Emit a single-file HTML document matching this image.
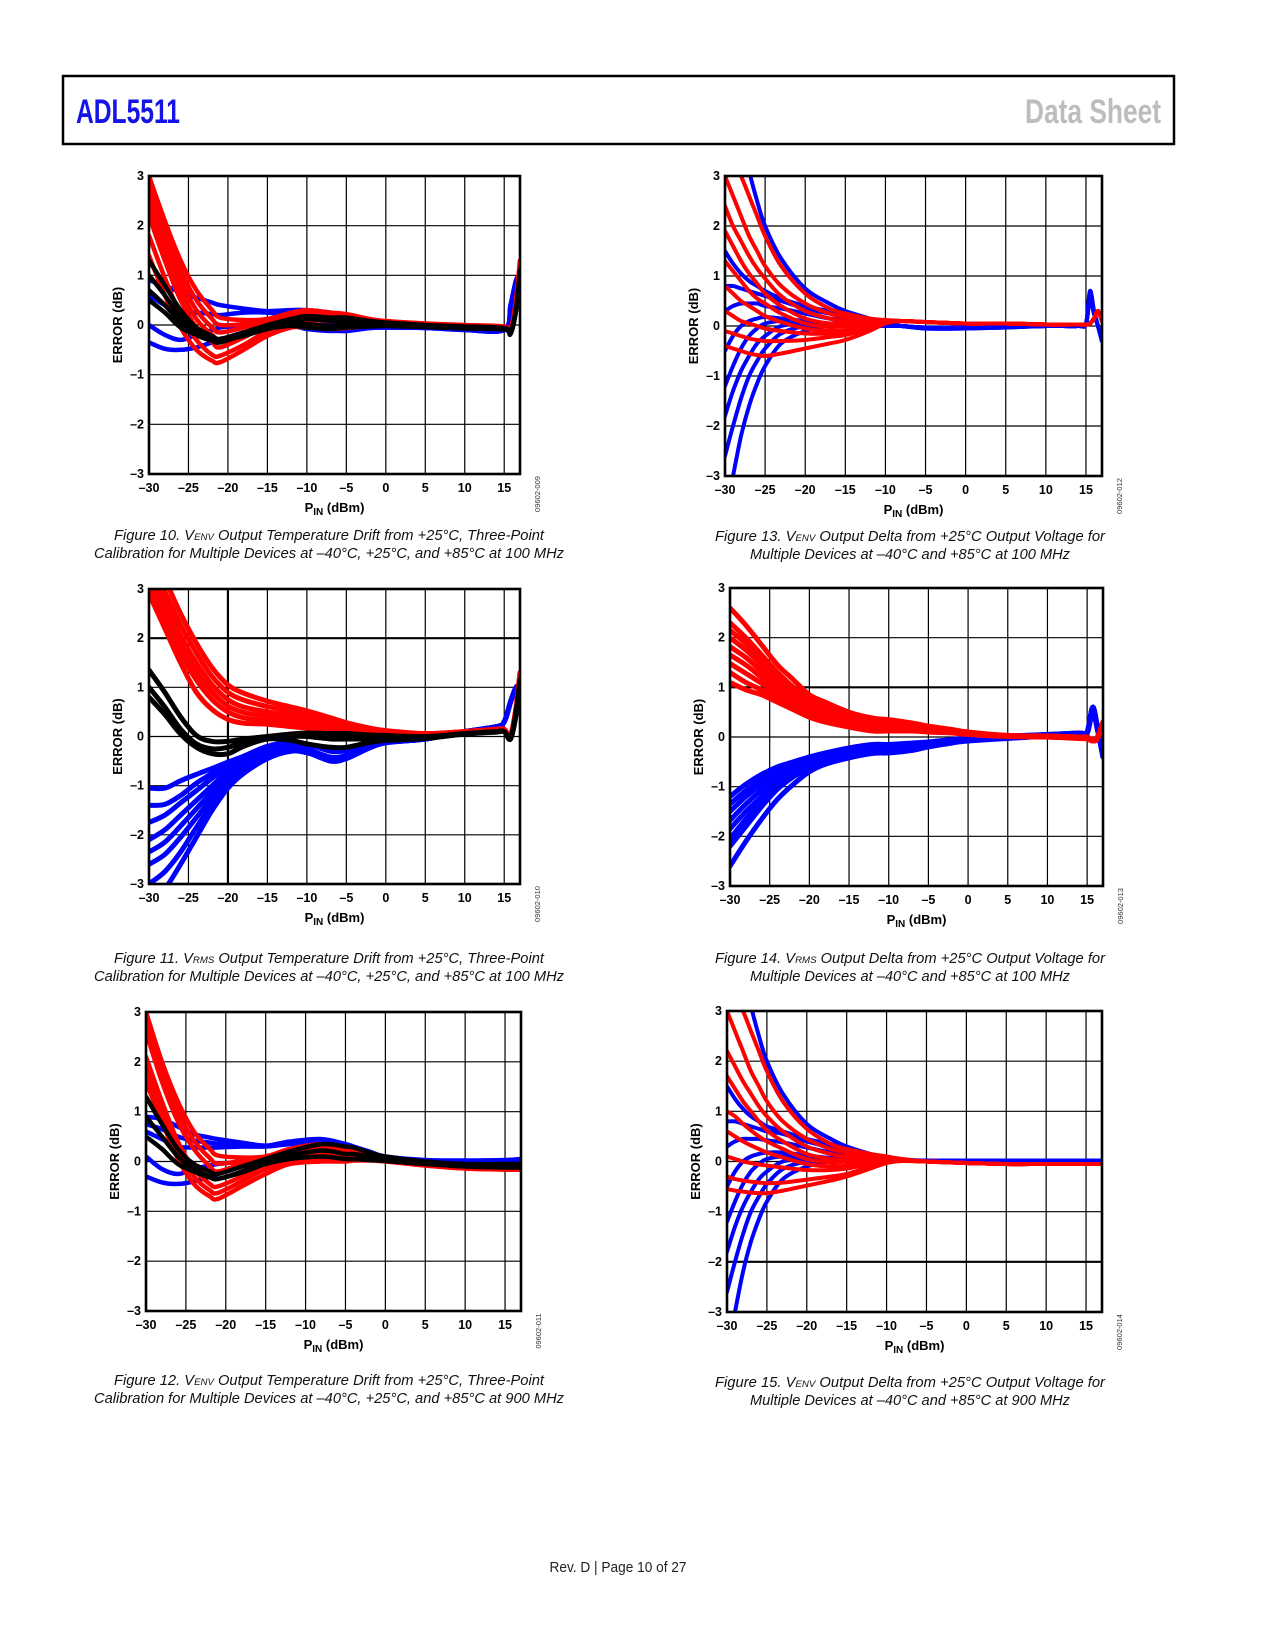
<!DOCTYPE html>
<html><head><meta charset="utf-8"><title>ADL5511 Data Sheet page 10</title>
<style>
html,body{margin:0;padding:0;background:#fff;}
svg{display:block;}
.tick{font-family:"Liberation Sans",Arial,sans-serif;font-weight:bold;font-size:12.5px;fill:#000;}
.axt{font-family:"Liberation Sans",Arial,sans-serif;font-weight:bold;font-size:13px;fill:#000;}
.cap{font-family:"Liberation Sans",Arial,sans-serif;font-style:italic;font-size:14.5px;fill:#111;}
.cat{font-family:"Liberation Sans",Arial,sans-serif;font-size:7.5px;fill:#333;}
</style></head>
<body>
<svg id="page" width="1275" height="1650" viewBox="0 0 1275 1650" xmlns="http://www.w3.org/2000/svg">
  <rect x="0" y="0" width="1275" height="1650" fill="#fff"/>
  <g>
    <rect x="63" y="76" width="1111" height="68" fill="none" stroke="#000" stroke-width="2.5"/>
    <text x="76" y="123" font-family="'Liberation Sans Narrow','Liberation Sans',sans-serif" font-weight="bold" font-size="34" fill="#1414e6" textLength="104" lengthAdjust="spacingAndGlyphs">ADL5511</text>
    <text x="1161" y="123" text-anchor="end" font-family="'Liberation Sans Narrow','Liberation Sans',sans-serif" font-weight="bold" font-size="34" fill="#bdbdbd" textLength="136" lengthAdjust="spacingAndGlyphs">Data Sheet</text>
  </g>
  <g id="charts"></g>
  <text x="618" y="1572" text-anchor="middle" font-family="'Liberation Sans',sans-serif" font-size="14.5" fill="#222" textLength="137" lengthAdjust="spacingAndGlyphs">Rev. D | Page 10 of 27</text>
</svg>
<script>
// ===== Figure 10 data =====
const f10_x = [-30,-28,-26,-24,-22,-21,-18,-15,-12,-10,-7,-5,-2,0,5,10,15,15.8,16.5,17];
const f10_blue = [
 [0.9,0.8,0.65,0.55,0.45,0.4,0.33,0.28,0.3,0.3,0.25,0.2,0.1,0.05,0,-0.05,-0.08,0.4,0.9,1.0],
 [0.6,0.4,0.25,0.25,0.22,0.2,0.25,0.25,0.2,0.15,0.05,0,-0.03,-0.05,-0.05,-0.08,-0.1,0.4,0.9,1.0],
 [0,-0.2,-0.3,-0.2,-0.1,-0.05,0,0.05,0.05,0,-0.1,-0.12,-0.06,-0.05,-0.06,-0.1,-0.1,0.35,0.9,1.0],
 [-0.35,-0.48,-0.5,-0.45,-0.35,-0.3,-0.15,-0.05,-0.02,-0.08,-0.12,-0.1,-0.06,-0.05,-0.06,-0.1,-0.1,0.35,0.9,1.0]
];
const f10_red = [
 [3.0,2.1,1.3,0.7,0.3,0.15,0.1,0.12,0.25,0.3,0.25,0.22,0.12,0.08,0.03,0,-0.03,-0.1,0.5,1.3],
 [2.8,1.9,1.1,0.5,0.12,0,0.02,0.11,0.23,0.29,0.23,0.2,0.11,0.07,0.03,-0.01,-0.04,-0.1,0.5,1.28],
 [2.6,1.7,0.9,0.3,-0.05,-0.15,-0.05,0.1,0.22,0.28,0.22,0.18,0.1,0.06,0.02,-0.02,-0.05,-0.1,0.5,1.25],
 [2.4,1.5,0.7,0.12,-0.2,-0.3,-0.15,0.05,0.18,0.25,0.2,0.16,0.09,0.05,0.02,-0.02,-0.05,-0.11,0.48,1.22],
 [2.2,1.3,0.5,-0.05,-0.35,-0.45,-0.25,0,0.15,0.22,0.18,0.15,0.08,0.05,0.02,-0.02,-0.05,-0.12,0.45,1.2],
 [1.8,0.95,0.2,-0.3,-0.6,-0.62,-0.4,-0.12,0.05,0.1,0.08,0.08,0.04,0.02,0,-0.03,-0.05,-0.12,0.45,1.2],
 [1.4,0.6,-0.05,-0.5,-0.72,-0.75,-0.5,-0.22,-0.05,-0.05,-0.08,-0.06,-0.02,0,0,-0.05,-0.05,-0.14,0.4,1.15]
];
const f10_black = [
 [1.3,0.8,0.3,-0.05,-0.22,-0.28,-0.15,0,0.12,0.18,0.15,0.15,0.08,0.05,0,-0.03,-0.06,-0.14,0.35,1.1],
 [1.0,0.6,0.15,-0.15,-0.3,-0.32,-0.18,-0.02,0.08,0.12,0.08,0.08,0.04,0.02,-0.02,-0.05,-0.07,-0.16,0.3,1.05],
 [0.7,0.4,0.05,-0.2,-0.32,-0.35,-0.2,-0.05,0.02,0.02,-0.02,0,0,0,-0.03,-0.06,-0.08,-0.18,0.3,1.0],
 [0.5,0.25,-0.05,-0.2,-0.28,-0.3,-0.22,-0.08,-0.02,-0.05,-0.08,-0.05,-0.03,-0.02,-0.04,-0.07,-0.09,-0.18,0.3,1.0]
];
// ===== Figure 11 data =====
const f11_x = [-30,-28,-26,-24,-22,-20,-18,-15,-12,-10,-7,-5,-2,0,5,10,14,15,15.8,16.5,17];
const f11_blue = [
 [-1.05,-1.05,-0.9,-0.77,-0.65,-0.52,-0.4,-0.2,-0.12,-0.15,-0.3,-0.28,-0.15,-0.1,-0.05,0.1,0.2,0.3,0.7,1.0,1.0],
 [-1.4,-1.38,-1.2,-0.95,-0.75,-0.55,-0.42,-0.25,-0.18,-0.25,-0.42,-0.38,-0.2,-0.12,-0.05,0.1,0.2,0.3,0.7,1.0,1.0],
 [-1.75,-1.6,-1.35,-1.1,-0.85,-0.62,-0.48,-0.3,-0.22,-0.3,-0.47,-0.42,-0.22,-0.12,-0.05,0.1,0.2,0.3,0.7,1.0,1.0],
 [-2.1,-1.9,-1.6,-1.3,-1.0,-0.72,-0.55,-0.35,-0.25,-0.32,-0.5,-0.45,-0.23,-0.13,-0.05,0.1,0.2,0.3,0.7,1.0,1.0],
 [-2.35,-2.15,-1.82,-1.47,-1.12,-0.8,-0.6,-0.38,-0.27,-0.32,-0.49,-0.44,-0.22,-0.12,-0.05,0.1,0.2,0.3,0.7,1.0,1.0],
 [-2.6,-2.4,-2.05,-1.65,-1.25,-0.9,-0.65,-0.4,-0.28,-0.32,-0.48,-0.44,-0.22,-0.12,-0.05,0.1,0.2,0.3,0.7,1.0,1.0],
 [-3.0,-2.75,-2.35,-1.85,-1.38,-0.98,-0.7,-0.43,-0.29,-0.33,-0.46,-0.43,-0.21,-0.12,-0.05,0.1,0.2,0.3,0.7,1.0,1.0],
 [-3.4,-3.1,-2.6,-2.05,-1.5,-1.05,-0.75,-0.45,-0.3,-0.33,-0.45,-0.42,-0.2,-0.12,-0.05,0.1,0.2,0.3,0.7,1.0,1.0]
];
const f11_red = [
 [3.8,3.2,2.5,1.9,1.4,1.05,0.88,0.72,0.6,0.52,0.38,0.28,0.17,0.12,0.06,0.1,0.15,0.15,0.02,0.6,1.3],
 [3.6,2.95,2.27,1.7,1.22,0.9,0.74,0.61,0.51,0.44,0.31,0.23,0.14,0.1,0.05,0.1,0.14,0.14,0.02,0.58,1.28],
 [3.4,2.75,2.05,1.5,1.05,0.75,0.6,0.5,0.42,0.36,0.25,0.18,0.12,0.09,0.05,0.1,0.14,0.14,0.02,0.55,1.25],
 [3.25,2.57,1.87,1.32,0.9,0.62,0.49,0.41,0.35,0.3,0.2,0.15,0.1,0.08,0.05,0.09,0.13,0.13,0.01,0.52,1.22],
 [3.1,2.4,1.7,1.15,0.75,0.5,0.38,0.32,0.28,0.24,0.16,0.12,0.08,0.07,0.05,0.09,0.13,0.13,0,0.5,1.2],
 [2.9,2.2,1.5,0.9,0.55,0.35,0.27,0.25,0.2,0.17,0.12,0.1,0.07,0.06,0.05,0.09,0.12,0.12,0,0.5,1.2]
];
const f11_black = [
 [1.35,0.9,0.4,0.02,-0.1,-0.1,-0.05,0,0.05,0.07,0.06,0.06,0.03,0.02,0,0.06,0.1,0.1,-0.03,0.5,1.15],
 [1.0,0.6,0.15,-0.15,-0.25,-0.22,-0.12,-0.02,0,0,-0.05,-0.05,-0.05,-0.03,-0.02,0.05,0.1,0.1,-0.05,0.45,1.1],
 [0.8,0.45,0.05,-0.22,-0.35,-0.35,-0.2,-0.05,-0.08,-0.15,-0.22,-0.22,-0.12,-0.08,-0.04,0.05,0.09,0.1,-0.05,0.45,1.1]
];
// ===== Figure 12 data =====
const f12_x = [-30,-28,-26,-24,-22,-21,-18,-15,-12,-8,-5,-4,-2,0,5,10,15,17];
const f12_blue = [
 [0.9,0.85,0.7,0.55,0.48,0.45,0.38,0.32,0.4,0.45,0.35,0.3,0.2,0.1,0.03,0.02,0.03,0.05],
 [0.75,0.65,0.5,0.42,0.38,0.36,0.34,0.31,0.38,0.42,0.32,0.29,0.18,0.09,0.02,0.01,0.02,0.05],
 [0.6,0.45,0.3,0.28,0.28,0.28,0.3,0.3,0.35,0.4,0.3,0.28,0.15,0.08,0.02,0,0.02,0.05],
 [0.1,-0.15,-0.25,-0.15,-0.08,-0.05,0,0.05,0.15,0.25,0.2,0.2,0.12,0.05,0,-0.02,0,0.02],
 [-0.3,-0.42,-0.45,-0.4,-0.3,-0.25,-0.1,0,0.1,0.2,0.15,0.15,0.1,0.05,0,-0.02,0,0.02]
];
const f12_red = [
 [3.0,2.0,1.2,0.6,0.25,0.12,0.08,0.1,0.25,0.35,0.25,0.25,0.15,0.08,-0.05,-0.12,-0.15,-0.15],
 [2.8,1.8,1.0,0.42,0.07,-0.04,0.01,0.1,0.22,0.32,0.22,0.22,0.13,0.06,-0.05,-0.12,-0.15,-0.15],
 [2.6,1.6,0.8,0.25,-0.1,-0.2,-0.05,0.1,0.2,0.3,0.2,0.2,0.12,0.05,-0.05,-0.12,-0.15,-0.15],
 [2.1,1.2,0.4,-0.15,-0.45,-0.5,-0.3,-0.05,0.1,0.15,0.1,0.1,0.06,0.02,-0.07,-0.13,-0.16,-0.16],
 [1.85,1.0,0.22,-0.3,-0.58,-0.63,-0.4,-0.15,0.03,0.08,0.05,0.06,0.04,0.01,-0.08,-0.14,-0.16,-0.16],
 [1.6,0.8,0.05,-0.45,-0.7,-0.75,-0.5,-0.25,-0.05,0,0,0.02,0.02,0,-0.08,-0.14,-0.16,-0.16]
];
const f12_black = [
 [1.3,0.75,0.25,-0.05,-0.2,-0.25,-0.1,0.05,0.2,0.35,0.3,0.28,0.18,0.1,0,-0.05,-0.05,-0.05],
 [0.9,0.5,0.1,-0.15,-0.3,-0.35,-0.2,0,0.12,0.22,0.15,0.15,0.1,0.05,-0.03,-0.08,-0.08,-0.08],
 [0.5,0.25,-0.05,-0.2,-0.32,-0.35,-0.22,-0.05,0.05,0.1,0.05,0.05,0.03,0.01,-0.05,-0.1,-0.12,-0.12]
];
// ===== Figure 13 data =====
const f13_x = [-30,-29,-28,-27,-26,-25,-23,-20,-17,-15,-12,-10,-8,-5,0,5,10,14,15,15.5,16,16.5,17];
const f13_blue = [
 [5,4.4,3.8,3.1,2.5,2.0,1.35,0.75,0.45,0.3,0.15,0.05,0,-0.05,-0.05,-0.03,0,0,0.05,0.7,0.3,0,-0.3],
 [1.5,1.25,1.05,0.9,0.8,0.7,0.55,0.4,0.3,0.25,0.12,0.05,0,-0.05,-0.05,-0.03,0,0,0.05,0.7,0.3,0,-0.3],
 [0.8,0.8,0.75,0.7,0.65,0.6,0.5,0.35,0.25,0.2,0.1,0.05,0,-0.04,-0.04,-0.02,0,0,0.05,0.65,0.3,0,-0.3],
 [0.3,0.4,0.45,0.45,0.45,0.4,0.35,0.25,0.15,0.12,0.05,0.02,0,-0.03,-0.03,-0.02,0,0,0.05,0.6,0.25,0,-0.3],
 [-0.5,-0.2,0,0.1,0.15,0.18,0.15,0.1,0.05,0.05,0.02,0,0,-0.03,-0.03,-0.02,0,0,0.05,0.6,0.25,0,-0.3],
 [-1.2,-0.8,-0.45,-0.2,-0.05,0.05,0.1,0.08,0.05,0.03,0.02,0,0,-0.03,-0.03,-0.02,0,0,0.05,0.6,0.25,0,-0.3],
 [-1.8,-1.3,-0.9,-0.6,-0.35,-0.2,0,0.05,0.03,0.02,0.01,0,0,-0.03,-0.03,-0.02,0,0,0.05,0.6,0.25,0,-0.3],
 [-2.6,-2.0,-1.45,-1.0,-0.7,-0.45,-0.15,0,0.02,0.02,0,0,0,-0.03,-0.03,-0.02,0,0,0.05,0.6,0.25,0,-0.3],
 [-3.8,-3.0,-2.2,-1.6,-1.15,-0.8,-0.35,-0.1,0,0,0,0,0,-0.03,-0.03,-0.02,0,0,0.05,0.6,0.25,0,-0.3]
];
const f13_red = [
 [3.6,3.3,3.0,2.6,2.2,1.8,1.2,0.65,0.35,0.25,0.15,0.12,0.1,0.08,0.05,0.05,0.03,0.03,0.03,0.05,0.15,0.3,0.1],
 [3.0,2.6,2.2,1.8,1.5,1.2,0.8,0.45,0.25,0.18,0.12,0.1,0.1,0.08,0.05,0.05,0.03,0.03,0.03,0.05,0.15,0.3,0.1],
 [2.4,2.0,1.7,1.4,1.15,0.95,0.6,0.3,0.15,0.1,0.1,0.1,0.1,0.08,0.05,0.05,0.03,0.03,0.03,0.05,0.15,0.3,0.1],
 [1.9,1.6,1.3,1.05,0.85,0.65,0.4,0.15,0.05,0.05,0.08,0.1,0.1,0.08,0.05,0.05,0.03,0.03,0.03,0.05,0.15,0.3,0.1],
 [1.3,1.1,0.9,0.7,0.55,0.45,0.25,0.05,-0.02,0,0.05,0.1,0.1,0.08,0.05,0.05,0.03,0.03,0.03,0.05,0.15,0.3,0.1],
 [0.8,0.65,0.5,0.4,0.3,0.2,0.08,-0.05,-0.1,-0.08,0,0.08,0.1,0.08,0.05,0.05,0.03,0.03,0.03,0.05,0.15,0.3,0.1],
 [0.3,0.2,0.1,0.05,0,-0.05,-0.1,-0.15,-0.15,-0.12,-0.02,0.07,0.1,0.08,0.05,0.05,0.03,0.03,0.03,0.05,0.15,0.3,0.1],
 [-0.1,-0.15,-0.2,-0.25,-0.28,-0.3,-0.3,-0.28,-0.22,-0.18,-0.05,0.06,0.1,0.08,0.05,0.05,0.03,0.03,0.03,0.05,0.15,0.3,0.1],
 [-0.4,-0.45,-0.5,-0.55,-0.58,-0.6,-0.55,-0.45,-0.35,-0.28,-0.1,0.05,0.1,0.08,0.05,0.05,0.03,0.03,0.03,0.05,0.15,0.3,0.1]
];
const f13_black = [];
// ===== Figure 14 data =====
const f14_x = [-30,-28,-26,-24,-22,-20,-18,-15,-12,-10,-7,-5,-2,0,5,10,14,15,15.7,16.3,17];
const f14_blue = [
 [-1.2,-0.95,-0.75,-0.6,-0.5,-0.4,-0.32,-0.22,-0.15,-0.15,-0.12,-0.1,-0.05,-0.02,0.02,0.05,0.08,0.1,0.6,0.2,-0.4],
 [-1.35,-1.08,-0.85,-0.68,-0.55,-0.44,-0.35,-0.25,-0.18,-0.18,-0.15,-0.11,-0.06,-0.03,0.01,0.05,0.08,0.1,0.6,0.2,-0.4],
 [-1.5,-1.2,-0.95,-0.75,-0.6,-0.48,-0.38,-0.27,-0.2,-0.2,-0.17,-0.12,-0.07,-0.04,0,0.04,0.07,0.1,0.6,0.2,-0.4],
 [-1.68,-1.35,-1.07,-0.83,-0.65,-0.52,-0.42,-0.3,-0.23,-0.22,-0.19,-0.14,-0.08,-0.05,0,0.04,0.07,0.1,0.58,0.2,-0.4],
 [-1.85,-1.5,-1.2,-0.9,-0.7,-0.55,-0.45,-0.33,-0.25,-0.24,-0.2,-0.15,-0.09,-0.05,-0.01,0.03,0.06,0.1,0.55,0.2,-0.4],
 [-2.05,-1.65,-1.3,-0.98,-0.75,-0.58,-0.48,-0.36,-0.28,-0.26,-0.22,-0.17,-0.1,-0.06,-0.02,0.02,0.05,0.09,0.52,0.18,-0.4],
 [-2.2,-1.8,-1.4,-1.05,-0.8,-0.62,-0.5,-0.38,-0.3,-0.28,-0.24,-0.18,-0.1,-0.07,-0.02,0.02,0.05,0.08,0.5,0.15,-0.4],
 [-2.6,-2.1,-1.65,-1.25,-0.95,-0.7,-0.55,-0.42,-0.33,-0.32,-0.27,-0.2,-0.12,-0.08,-0.03,0.02,0.04,0.07,0.5,0.15,-0.4]
];
const f14_red = [
 [2.6,2.25,1.85,1.45,1.15,0.85,0.7,0.5,0.38,0.35,0.28,0.22,0.15,0.1,0.03,0.02,0,0,-0.05,0,0.3],
 [2.3,2.0,1.65,1.3,1.0,0.75,0.6,0.45,0.35,0.3,0.25,0.2,0.13,0.09,0.03,0.02,0,-0.02,-0.05,0,0.3],
 [2.15,1.88,1.55,1.22,0.95,0.7,0.56,0.41,0.32,0.28,0.23,0.19,0.12,0.08,0.02,0.01,-0.01,-0.02,-0.06,-0.01,0.3],
 [2.0,1.75,1.45,1.15,0.9,0.65,0.52,0.38,0.3,0.27,0.22,0.18,0.12,0.08,0.02,0.01,-0.02,-0.03,-0.07,-0.02,0.3],
 [1.82,1.6,1.32,1.05,0.82,0.6,0.47,0.34,0.26,0.23,0.2,0.16,0.11,0.07,0.02,0,-0.02,-0.03,-0.07,-0.02,0.3],
 [1.65,1.45,1.2,0.95,0.75,0.55,0.42,0.3,0.22,0.2,0.18,0.15,0.1,0.07,0.02,0,-0.02,-0.03,-0.07,-0.02,0.3],
 [1.48,1.28,1.08,0.88,0.68,0.5,0.38,0.26,0.18,0.17,0.16,0.13,0.09,0.06,0.02,0,-0.02,-0.03,-0.08,-0.03,0.3],
 [1.3,1.1,0.95,0.8,0.6,0.45,0.35,0.22,0.15,0.15,0.15,0.12,0.09,0.06,0.02,0,-0.02,-0.03,-0.08,-0.03,0.3],
 [1.1,0.95,0.85,0.7,0.55,0.4,0.3,0.2,0.12,0.12,0.12,0.1,0.08,0.05,0.01,0,-0.03,-0.04,-0.08,-0.03,0.3]
];
const f14_black = [];
// ===== Figure 15 data =====
const f15_x = [-30,-29,-28,-27,-26,-25,-23,-20,-17,-15,-12,-10,-8,-5,0,5,10,17];
const f15_blue = [
 [5,4.4,3.8,3.1,2.5,2.0,1.35,0.75,0.45,0.3,0.15,0.08,0.03,0.02,0.02,0.02,0.02,0.02],
 [1.5,1.25,1.05,0.9,0.8,0.7,0.6,0.45,0.35,0.28,0.14,0.08,0.03,0.02,0.02,0.02,0.02,0.02],
 [0.8,0.8,0.75,0.7,0.65,0.6,0.55,0.4,0.28,0.22,0.12,0.07,0.03,0.02,0.02,0.02,0.02,0.02],
 [0.3,0.4,0.45,0.45,0.45,0.42,0.38,0.28,0.18,0.14,0.07,0.05,0.03,0.02,0.02,0.02,0.02,0.02],
 [-0.5,-0.2,0,0.1,0.15,0.18,0.18,0.12,0.07,0.06,0.04,0.03,0.02,0.02,0.02,0.02,0.02,0.02],
 [-1.2,-0.8,-0.45,-0.2,-0.05,0.05,0.1,0.08,0.05,0.04,0.03,0.03,0.02,0.02,0.02,0.02,0.02,0.02],
 [-1.8,-1.3,-0.9,-0.6,-0.35,-0.2,0,0.05,0.03,0.02,0.02,0.02,0.02,0.02,0.02,0.02,0.02,0.02],
 [-2.6,-2.0,-1.45,-1.0,-0.7,-0.45,-0.15,0,0.02,0.02,0.02,0.02,0.02,0.02,0.02,0.02,0.02,0.02],
 [-3.8,-3.0,-2.2,-1.6,-1.15,-0.8,-0.35,-0.1,0,0,0.01,0.02,0.02,0.02,0.02,0.02,0.02,0.02]
];
const f15_red = [
 [3.6,3.3,3.0,2.6,2.2,1.8,1.2,0.65,0.35,0.25,0.15,0.1,0.05,0,-0.03,-0.05,-0.05,-0.05],
 [3.0,2.6,2.2,1.8,1.5,1.2,0.8,0.45,0.25,0.18,0.12,0.08,0.04,0,-0.03,-0.05,-0.05,-0.05],
 [2.2,1.9,1.6,1.35,1.1,0.9,0.6,0.3,0.15,0.1,0.08,0.06,0.03,0,-0.03,-0.05,-0.05,-0.05],
 [1.7,1.45,1.2,1.0,0.8,0.62,0.4,0.15,0.05,0.04,0.05,0.05,0.02,0,-0.03,-0.05,-0.05,-0.05],
 [1.0,0.9,0.75,0.62,0.5,0.4,0.25,0.05,-0.02,0,0.03,0.04,0.02,0,-0.03,-0.05,-0.05,-0.05],
 [0.6,0.5,0.4,0.32,0.25,0.18,0.08,-0.05,-0.1,-0.08,-0.01,0.03,0.02,0,-0.03,-0.05,-0.05,-0.05],
 [0.1,0.05,0,-0.03,-0.06,-0.08,-0.12,-0.17,-0.17,-0.14,-0.05,0.02,0.02,0,-0.03,-0.05,-0.05,-0.05],
 [-0.3,-0.35,-0.38,-0.4,-0.42,-0.43,-0.42,-0.36,-0.3,-0.25,-0.1,0,0.01,0,-0.03,-0.05,-0.05,-0.05],
 [-0.55,-0.58,-0.6,-0.62,-0.63,-0.63,-0.58,-0.48,-0.38,-0.3,-0.14,-0.03,0.01,0,-0.03,-0.05,-0.05,-0.05]
];
const f15_black = [];

const xTicks = [-30,-25,-20,-15,-10,-5,0,5,10,15];
const xTickLabels = ["–30","–25","–20","–15","–10","–5","0","5","10","15"];
const yTicks = [-3,-2,-1,0,1,2,3];
const yTickLabels = ["–3","–2","–1","0","1","2","3"];

const NS = "http://www.w3.org/2000/svg";
const root = document.getElementById('charts');

function mk(tag, attrs, parent){
  const e = document.createElementNS(NS, tag);
  for (const k in attrs) e.setAttribute(k, attrs[k]);
  if (parent) parent.appendChild(e);
  return e;
}

function smoothPath(pts){
  let d = "M" + pts[0][0].toFixed(1) + "," + pts[0][1].toFixed(1);
  for (let i = 0; i < pts.length - 1; i++){
    const p0 = pts[i-1] || pts[i], p1 = pts[i], p2 = pts[i+1], p3 = pts[i+2] || p2;
    const c1x = p1[0] + (p2[0]-p0[0])/6, c1y = p1[1] + (p2[1]-p0[1])/6;
    const c2x = p2[0] - (p3[0]-p1[0])/6, c2y = p2[1] - (p3[1]-p1[1])/6;
    d += " C" + c1x.toFixed(1) + "," + c1y.toFixed(1) + " " + c2x.toFixed(1) + "," + c2y.toFixed(1) + " " + p2[0].toFixed(1) + "," + p2[1].toFixed(1);
  }
  return d;
}

function drawChart(cfg){
  const g = mk('g', {}, root);
  
  
  const L = cfg.L, R = cfg.R, T = cfg.T, B = cfg.B;
  const sx = v => L + (v + 30) * (R - L) / 47;
  const sy = v => B - (v + 3) * (B - T) / 6;
  const cid = 'clip-' + cfg.name;
  const cp = mk('clipPath', {id: cid}, g);
  mk('rect', {x: L, y: T, width: R - L, height: B - T}, cp);

  const grid = mk('g', {stroke: '#000'}, g);
  
  
  xTicks.forEach(v => {
    if (v === -30) return;
    mk('line', {x1: sx(v), x2: sx(v), y1: T, y2: B, 'stroke-width': (cfg.thickX === v ? 2.2 : 1.2)}, grid);
  });
  yTicks.forEach(v => {
    if (v === -3 || v === 3) return;
    mk('line', {x1: L, x2: R, y1: sy(v), y2: sy(v), 'stroke-width': (cfg.thickY === v ? 2.2 : 1.2)}, grid);
  });

  const sg = mk('g', {'clip-path': 'url(#' + cid + ')', fill: 'none', 'stroke-linejoin': 'round', 'stroke-linecap': 'round'}, g);
  const groups = [['blue', '#0000ff', cfg.blue], ['red', '#ff0000', cfg.red], ['black', '#000000', cfg.black]];
  groups.forEach(([nm, col, arr]) => {
    arr.forEach((ys, i) => {
      const pts = ys.map((y, j) => [sx(cfg.xs[j]), sy(y)]);
      const p = mk('path', {d: smoothPath(pts), stroke: col, 'stroke-width': cfg.sw || 4}, sg);
      
      
    });
  });

  const fr = mk('rect', {x: L, y: T, width: R - L, height: B - T, fill: 'none', stroke: '#000', 'stroke-width': 2.6}, g);
  
  

  xTicks.forEach((v, i) => {
    const t = mk('text', {x: sx(v), y: B + 18, 'text-anchor': 'middle', class: 'tick'}, g);
    t.textContent = xTickLabels[i];
    
    
  });
  yTicks.forEach((v, i) => {
    const t = mk('text', {x: L - 5, y: sy(v) + 4, 'text-anchor': 'end', class: 'tick'}, g);
    t.textContent = yTickLabels[i];
    
    
  });

  const cx = (L + R) / 2;
  const xt = mk('text', {x: cx, y: B + 38, 'text-anchor': 'middle', class: 'axt'}, g);
  
  
  xt.appendChild(document.createTextNode('P'));
  const sub = mk('tspan', {'font-size': '10', dy: '3'}, xt);
  sub.textContent = 'IN';
  const rest = mk('tspan', {dy: '-3'}, xt);
  rest.textContent = ' (dBm)';

  const cy = (T + B) / 2;
  const yt = mk('text', {x: L - 27, y: cy, 'text-anchor': 'middle', class: 'axt', transform: 'rotate(-90 ' + (L - 27) + ' ' + cy + ')'}, g);
  yt.textContent = 'ERROR (dB)';
  
  

  const cxp = R + 20, cyp = B + 20;
  const cat = mk('text', {x: cxp, y: cyp, 'text-anchor': 'middle', class: 'cat', transform: 'rotate(-90 ' + cxp + ' ' + cyp + ')'}, g);
  cat.textContent = cfg.code;
  
  

  const capG = mk('g', {}, g);
  
  
  const l1 = mk('text', {x: cfg.capX, y: cfg.capY, 'text-anchor': 'middle', class: 'cap', textLength: cfg.w1, lengthAdjust: 'spacingAndGlyphs'}, capG);
  l1.appendChild(document.createTextNode(cfg.fig + ' V'));
  const s = mk('tspan', {'font-size': '9.5'}, l1);
  s.textContent = cfg.sub;
  const r1 = mk('tspan', {}, l1);
  r1.textContent = cfg.line1;
  const l2 = mk('text', {x: cfg.capX, y: cfg.capY + 18, 'text-anchor': 'middle', class: 'cap', textLength: cfg.w2, lengthAdjust: 'spacingAndGlyphs'}, capG);
  l2.textContent = cfg.line2;
}

const capA1 = ' Output Temperature Drift from +25°C, Three-Point';
const capA2 = 'Calibration for Multiple Devices at –40°C, +25°C, and +85°C at ';
const capB1 = ' Output Delta from +25°C Output Voltage for';
const capB2 = 'Multiple Devices at –40°C and +85°C at ';

drawChart({name:'figure-10-chart', L:149, R:520, T:176, B:474, xs:f10_x, blue:f10_blue, red:f10_red, black:f10_black, sw:4.5,
  code:'09602-009', fig:'Figure 10.', sub:'ENV', line1:capA1, line2:capA2+'100 MHz', capX:329, capY:540, w1:430, w2:470});
drawChart({name:'figure-13-chart', L:725, R:1102, T:176, B:476, xs:f13_x, blue:f13_blue, red:f13_red, black:f13_black, sw:4,
  code:'09602-012', fig:'Figure 13.', sub:'ENV', line1:capB1, line2:capB2+'100 MHz', capX:910, capY:541, w1:390, w2:320});
drawChart({name:'figure-11-chart', L:149, R:520, T:589, B:884, xs:f11_x, blue:f11_blue, red:f11_red, black:f11_black, sw:5,
  code:'09602-010', fig:'Figure 11.', sub:'RMS', line1:capA1, line2:capA2+'100 MHz', capX:329, capY:963, w1:430, w2:470, thickX:-20, thickY:2});
drawChart({name:'figure-14-chart', L:730, R:1103, T:588, B:886, xs:f14_x, blue:f14_blue, red:f14_red, black:f14_black, sw:5,
  code:'09602-013', fig:'Figure 14.', sub:'RMS', line1:capB1, line2:capB2+'100 MHz', capX:910, capY:963, w1:390, w2:320, thickY:1});
drawChart({name:'figure-12-chart', L:146, R:521, T:1012, B:1311, xs:f12_x, blue:f12_blue, red:f12_red, black:f12_black, sw:4.5,
  code:'09602-011', fig:'Figure 12.', sub:'ENV', line1:capA1, line2:capA2+'900 MHz', capX:329, capY:1385, w1:430, w2:470});
drawChart({name:'figure-15-chart', L:727, R:1102, T:1011, B:1312, xs:f15_x, blue:f15_blue, red:f15_red, black:f15_black, sw:4,
  code:'09602-014', fig:'Figure 15.', sub:'ENV', line1:capB1, line2:capB2+'900 MHz', capX:910, capY:1387, w1:390, w2:320, thickY:-2});
</script>
</body></html>
